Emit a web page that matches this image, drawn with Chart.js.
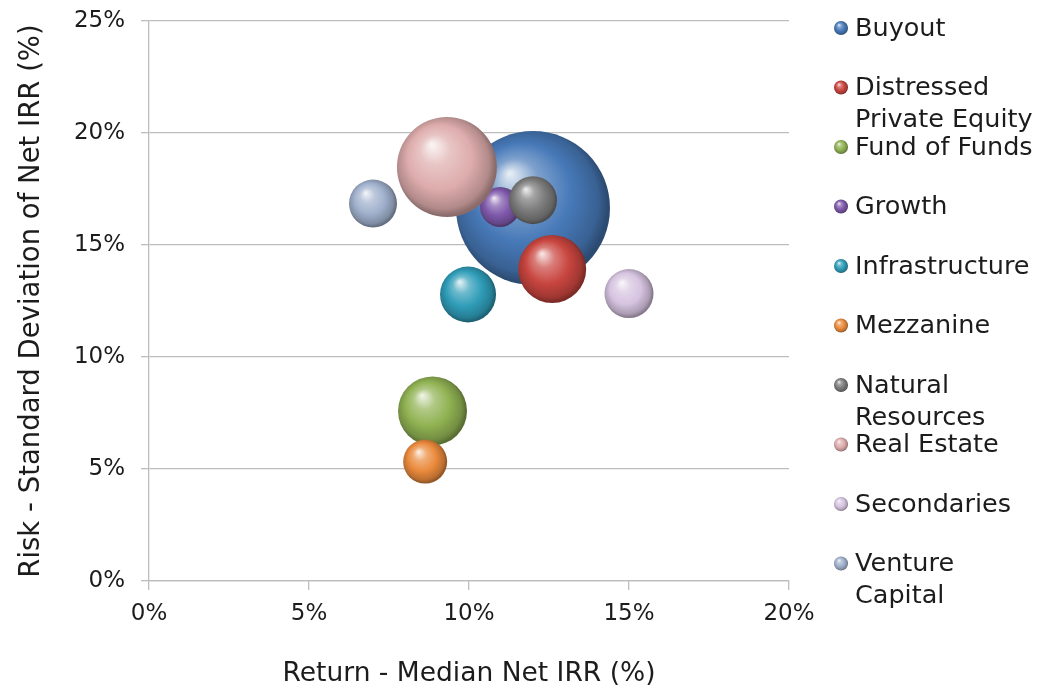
<!DOCTYPE html>
<html>
<head>
<meta charset="utf-8">
<title>Private Equity Strategies: Risk vs Return</title>
<script src="https://cdn.jsdelivr.net/npm/chart.js@4.4.1/dist/chart.umd.min.js"></script>
<style>
  html, body { margin: 0; padding: 0; background: #ffffff; }
  canvas { display: block; }
</style>
</head>
<body>
<canvas id="chart" width="1055" height="690"></canvas>
<script>
// Strategy names (a "\n" marks where the legend wraps the label)
const strategies = [
  'Buyout',
  'Distressed\nPrivate Equity',
  'Fund of Funds',
  'Growth',
  'Infrastructure',
  'Mezzanine',
  'Natural\nResources',
  'Real Estate',
  'Secondaries',
  'Venture\nCapital'
];

// Return - median net IRR (%)
const medianNetIRR = [12.0, 12.6, 8.86, 10.97, 9.97, 8.63, 12.0, 9.31, 15.0, 7.0];

// Risk - standard deviation of net IRR (%)
const stdDevNetIRR = [16.65, 13.93, 7.59, 16.7, 12.79, 5.33, 17.0, 18.48, 12.83, 16.85];

// Bubble size per strategy
const bubbleSize = [77, 34, 34.5, 20, 28, 22, 24, 50, 24.5, 24];

// Axis ticks
const xTicks = [0, 5, 10, 15, 20];
const yTicks = [0, 5, 10, 15, 20, 25];

// Base colour of each sphere
const sphereColors = [
  '#4779b8', '#c8453f', '#90b252', '#7e58aa', '#2f9cb8',
  '#ea8a3c', '#7c7c7c', '#deacac', '#d6c3e0', '#a0b0cc'
];

function hexToRgb(h) {
  const n = parseInt(h.slice(1), 16);
  return [(n >> 16) & 255, (n >> 8) & 255, n & 255];
}
function mix(h, target, t) {
  const a = hexToRgb(h);
  return 'rgb(' + a.map((v, i) => Math.round(v + (target[i] - v) * t)).join(',') + ')';
}
const WHITE = [255, 255, 255];
const BLACK = [0, 0, 0];

// Radial gradient that gives a glossy 3-D ball look
function sphereFill(ctx, cx, cy, r, base) {
  const g = ctx.createRadialGradient(cx - r * 0.3, cy - r * 0.45, r * 0.02, cx - r * 0.05, cy - r * 0.05, r * 1.02);
  g.addColorStop(0.0, mix(base, WHITE, 0.85));
  g.addColorStop(0.28, mix(base, WHITE, 0.3));
  g.addColorStop(0.62, base);
  g.addColorStop(0.9, mix(base, BLACK, 0.2));
  g.addColorStop(1.0, mix(base, BLACK, 0.38));
  return g;
}

const FONT = '"DejaVu Sans", "Noto Sans", sans-serif';
const TEXT_COLOR = '#1c1c1c';
const GRID_COLOR = '#bdbdbd';

// Legend with sphere markers; two-line labels spill into the next slot
const sphereLegend = {
  id: 'sphereLegend',
  afterDraw(chart, args, opts) {
    const ctx = chart.ctx;
    ctx.save();
    ctx.font = opts.fontSize + 'px ' + FONT;
    ctx.textBaseline = 'middle';
    ctx.textAlign = 'left';
    chart.data.datasets.forEach((ds, i) => {
      const yc = opts.top + i * opts.step;
      ctx.beginPath();
      ctx.arc(opts.markerX, yc, opts.markerR, 0, Math.PI * 2);
      ctx.fillStyle = sphereFill(ctx, opts.markerX, yc, opts.markerR, sphereColors[i]);
      ctx.fill();
      ctx.fillStyle = TEXT_COLOR;
      strategies[i].split('\n').forEach((line, k) => {
        ctx.fillText(line, opts.textX, yc + 1 + k * opts.lineGap);
      });
    });
    ctx.restore();
  }
};

// Later series sit on top of earlier ones
const datasets = strategies.map((name, i) => ({
  label: name.replace('\n', ' '),
  order: strategies.length - i,
  data: [{ x: medianNetIRR[i], y: stdDevNetIRR[i], r: bubbleSize[i] }],
  borderWidth: 0,
  backgroundColor: (c) => {
    const base = sphereColors[c.datasetIndex];
    const ch = c.chart;
    if (c.type !== 'data' || !ch.chartArea || !c.raw) return base;
    const x = ch.scales.x.getPixelForValue(c.raw.x);
    const y = ch.scales.y.getPixelForValue(c.raw.y);
    return sphereFill(ch.ctx, x, y, c.raw.r, base);
  }
}));

new Chart(document.getElementById('chart'), {
  type: 'bubble',
  data: { datasets },
  plugins: [sphereLegend],
  options: {
    responsive: false,
    animation: false,
    events: [],
    layout: { autoPadding: false, padding: { left: 0, right: 266, top: 21, bottom: 0 } },
    plugins: {
      legend: { display: false },
      tooltip: { enabled: false },
      sphereLegend: { top: 28, step: 59.5, lineGap: 32, markerX: 841, markerR: 7, textX: 855, fontSize: 25.5 }
    },
    scales: {
      x: {
        type: 'linear',
        min: 0, max: 20,
        afterBuildTicks: (s) => { s.ticks = xTicks.map(v => ({ value: v })); },
        afterFit: (s) => { s.height = 109; s.paddingLeft = 0; s.paddingRight = 0; },
        grid: { drawOnChartArea: false, color: GRID_COLOR, tickLength: 9, lineWidth: 1.3 },
        border: { color: GRID_COLOR, width: 1.3 },
        ticks: { color: TEXT_COLOR, font: { family: FONT, size: 23 }, padding: 10, callback: v => v + '%' },
        title: { display: true, text: 'Return - Median Net IRR (%)', color: TEXT_COLOR, font: { family: FONT, size: 26.5 }, padding: { top: 0, bottom: 0 } }
      },
      y: {
        type: 'linear',
        min: 0, max: 25,
        afterBuildTicks: (s) => { s.ticks = yTicks.map(v => ({ value: v })); },
        afterFit: (s) => { s.width = 149; s.paddingTop = 0; s.paddingBottom = 0; },
        grid: { color: GRID_COLOR, tickLength: 8, lineWidth: 1.3 },
        border: { color: GRID_COLOR, width: 1.3 },
        ticks: { color: TEXT_COLOR, font: { family: FONT, size: 23 }, padding: 16, callback: v => v + '%' },
        title: { display: true, text: 'Risk - Standard Deviation of Net IRR (%)', color: TEXT_COLOR, font: { family: FONT, size: 27.5 }, padding: { top: 15, bottom: 0 } }
      }
    }
  }
});
</script>
</body>
</html>
